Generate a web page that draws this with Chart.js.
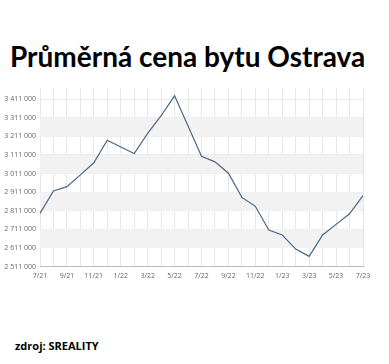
<!DOCTYPE html>
<html>
<head>
<meta charset="utf-8">
<script src="https://cdn.jsdelivr.net/npm/chart.js@4"></script>
<style>
  html, body { margin: 0; padding: 0; background: #fff; }
  body { width: 389px; height: 364px; position: relative; overflow: hidden; font-family: "Open Sans", sans-serif; }
  #title { position: absolute; left: 10px; top: 39px; font-family: Lato, sans-serif; font-size: 28px; font-weight: bold; color: #000; white-space: nowrap; }
  #wrap { position: absolute; left: 0; top: 80px; width: 389px; height: 205px; }
  #source { position: absolute; left: 15px; top: 338px; font-size: 11px; font-weight: bold; color: #000; }
</style>
</head>
<body>
<div id="title">Průměrná cena bytu Ostrava</div>
<div id="wrap"><canvas id="chart"></canvas></div>
<div id="source">zdroj: SREALITY</div>
<script>
const months = ['7/21','8/21','9/21','10/21','11/21','12/21','1/22','2/22','3/22','4/22','5/22','6/22',
                '7/22','8/22','9/22','10/22','11/22','12/22','1/23','2/23','3/23','4/23','5/23','6/23','7/23'];
const prices = [2797000, 2918000, 2941000, 3004000, 3069000, 3190000, 3154000, 3119000, 3227000, 3322000, 3429000, 3267000,
                3104000, 3074000, 3013000, 2883000, 2835000, 2708000, 2681000, 2605000, 2566000, 2681000, 2738000, 2795000, 2892000];
const yTicks = [2511000, 2611000, 2711000, 2811000, 2911000, 3011000, 3111000, 3211000, 3311000, 3411000];

function fmt(v) {
  return String(v).replace(/\B(?=(\d{3})+(?!\d))/g, ' ');
}

// grey bands between every other pair of ticks
const bands = {
  id: 'bands',
  beforeDatasetsDraw(chart) {
    const { ctx, chartArea, scales } = chart;
    ctx.save();
    ctx.fillStyle = '#f2f2f2';
    for (let i = 1; i < yTicks.length - 1; i += 2) {
      const y1 = scales.y.getPixelForValue(yTicks[i]);
      const y2 = scales.y.getPixelForValue(yTicks[i + 1]);
      ctx.fillRect(chartArea.left, y2, chartArea.right - chartArea.left, y1 - y2);
    }
    ctx.restore();
  }
};

new Chart(document.getElementById('chart'), {
  type: 'line',
  data: {
    labels: months,
    datasets: [{
      data: prices,
      borderColor: '#4a6785',
      borderWidth: 1.2,
      pointRadius: 0,
      tension: 0,
      fill: false
    }]
  },
  options: {
    responsive: true,
    maintainAspectRatio: false,
    animation: false,
    layout: { padding: { left: 4, right: 26, top: 7, bottom: 0 } },
    plugins: { legend: { display: false }, tooltip: { enabled: false } },
    scales: {
      x: {
        offset: false,
        grid: { color: '#e6e6e6', drawTicks: false, z: -1 },
        border: { color: '#bbbbbb' },
        ticks: {
          autoSkip: false,
          maxRotation: 0,
          padding: 5,
          color: '#666',
          font: { family: 'Open Sans', size: 7 },
          callback: (v, i) => (i % 2 === 0 ? months[i] : '')
        }
      },
      y: {
        min: 2511000,
        max: 3470000,
        afterBuildTicks: (scale) => { scale.ticks = yTicks.map(v => ({ value: v })); },
        afterFit: (scale) => { scale.width = 36; },
        grid: { color: '#ececec', drawTicks: false },
        border: { display: false },
        ticks: {
          padding: 4,
          color: '#666',
          font: { family: 'Open Sans', size: 7 },
          callback: (v) => fmt(v)
        }
      }
    }
  },
  plugins: [bands]
});
</script>
</body>
</html>
